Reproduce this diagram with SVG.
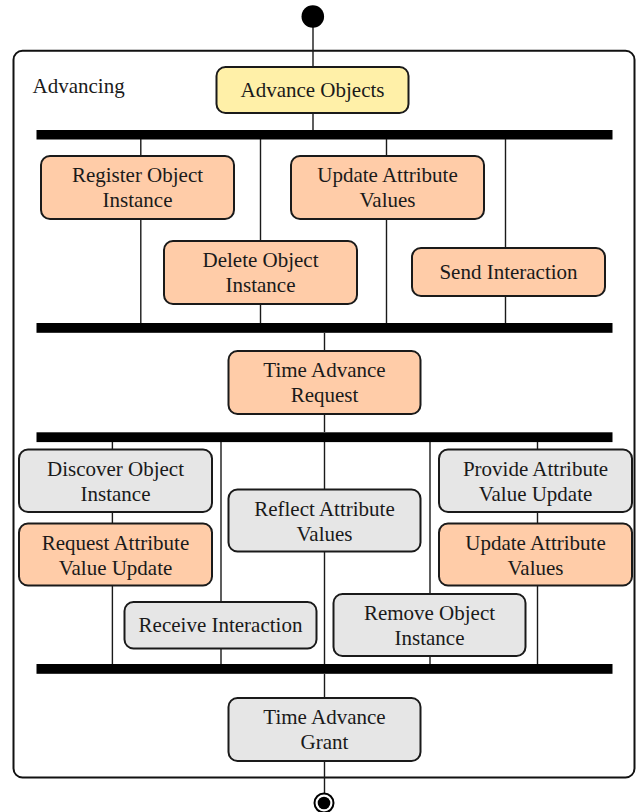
<svg xmlns="http://www.w3.org/2000/svg" width="636" height="812" viewBox="0 0 636 812">
  <style>
    .act { stroke: #1a1a1a; stroke-width: 2; }
    .yellow { fill: #FFF0A8; }
    .orange { fill: #FFCCA8; }
    .gray { fill: #E6E6E6; }
    .lbl { font-family: "Liberation Serif", "Times New Roman", serif; font-size: 21px; fill: #1a1a1a; text-anchor: middle; }
    .flow { stroke: #1a1a1a; stroke-width: 1.4; fill: none; }
    .bar { fill: #000; }
  </style>
  <rect width="636" height="812" fill="#fff"/>

  <!-- activity region -->
  <g id="advancing">
    <rect x="13.5" y="50.7" width="621" height="726.8" rx="9" fill="#fff" stroke="#111" stroke-width="2"/>
    <text x="32.5" y="93" class="lbl" style="text-anchor:start">Advancing</text>
  </g>

  <!-- control flows -->
  <g id="connectors">
    <path class="flow" d="M313 16V67 M313 113V130"/>
    <path class="flow" d="M140.8 139V156 M140.8 219V323"/>
    <path class="flow" d="M260.5 139V241 M260.5 304V323"/>
    <path class="flow" d="M386.5 139V156 M386.5 219V323"/>
    <path class="flow" d="M505.5 139V248.5 M505.5 296.5V323"/>
    <path class="flow" d="M324.5 333V351 M324.5 414V432"/>
    <path class="flow" d="M112.4 442V449.5 M112.4 512V523.5 M112.4 585.5V664"/>
    <path class="flow" d="M221 442V602 M221 648.5V664"/>
    <path class="flow" d="M324.5 442V489.5 M324.5 551.5V664"/>
    <path class="flow" d="M430 442V594 M430 656V664"/>
    <path class="flow" d="M537.5 442V449.5 M537.5 512V523.5 M537.5 585.5V664"/>
    <path class="flow" d="M324.5 674V698 M324.5 761V793"/>
  </g>

  <!-- fork / join bars -->
  <g id="bar1"><rect class="bar" x="36.5" y="130" width="576" height="9.5"/></g>
  <g id="bar2"><rect class="bar" x="36.5" y="323" width="576" height="9.8"/></g>
  <g id="bar3"><rect class="bar" x="36.5" y="432.3" width="576" height="9.8"/></g>
  <g id="bar4"><rect class="bar" x="36.5" y="664" width="576" height="9.8"/></g>

  <!-- initial and final nodes -->
  <g id="start"><circle cx="312.8" cy="16.5" r="11.3" fill="#000"/></g>
  <g id="end">
    <circle cx="324" cy="803" r="9.5" fill="#fff" stroke="#000" stroke-width="2"/>
    <circle cx="324" cy="803" r="6.3" fill="#000"/>
  </g>

  <!-- actions -->
  <g id="advance-objects">
    <rect class="act yellow" x="216.5" y="67" width="192" height="46" rx="9"/>
    <text class="lbl" x="312.5" y="96.7">Advance Objects</text>
  </g>
  <g id="register-object-instance">
    <rect class="act orange" x="41" y="156" width="193" height="63" rx="9"/>
    <text class="lbl" x="137.5" y="182.3">Register Object</text>
    <text class="lbl" x="137.5" y="207.3">Instance</text>
  </g>
  <g id="update-attribute-values-1">
    <rect class="act orange" x="291" y="156" width="193" height="63" rx="9"/>
    <text class="lbl" x="387.5" y="182.3">Update Attribute</text>
    <text class="lbl" x="387.5" y="207.3">Values</text>
  </g>
  <g id="delete-object-instance">
    <rect class="act orange" x="164" y="241" width="193" height="63" rx="9"/>
    <text class="lbl" x="260.5" y="267.3">Delete Object</text>
    <text class="lbl" x="260.5" y="292.3">Instance</text>
  </g>
  <g id="send-interaction">
    <rect class="act orange" x="412" y="248" width="193" height="48" rx="9"/>
    <text class="lbl" x="508.5" y="279.3">Send Interaction</text>
  </g>
  <g id="time-advance-request">
    <rect class="act orange" x="228.5" y="351" width="192" height="63" rx="9"/>
    <text class="lbl" x="324.5" y="377.3">Time Advance</text>
    <text class="lbl" x="324.5" y="402.3">Request</text>
  </g>
  <g id="discover-object-instance">
    <rect class="act gray" x="19" y="449.5" width="193" height="62.5" rx="9"/>
    <text class="lbl" x="115.5" y="475.8">Discover Object</text>
    <text class="lbl" x="115.5" y="500.8">Instance</text>
  </g>
  <g id="request-attribute-value-update">
    <rect class="act orange" x="19" y="523.5" width="193" height="62" rx="9"/>
    <text class="lbl" x="115.5" y="549.8">Request Attribute</text>
    <text class="lbl" x="115.5" y="574.8">Value Update</text>
  </g>
  <g id="reflect-attribute-values">
    <rect class="act gray" x="228.5" y="489.5" width="192" height="62" rx="9"/>
    <text class="lbl" x="324.5" y="515.8">Reflect Attribute</text>
    <text class="lbl" x="324.5" y="540.8">Values</text>
  </g>
  <g id="provide-attribute-value-update">
    <rect class="act gray" x="439" y="449.5" width="193" height="62.5" rx="9"/>
    <text class="lbl" x="535.5" y="475.8">Provide Attribute</text>
    <text class="lbl" x="535.5" y="500.8">Value Update</text>
  </g>
  <g id="update-attribute-values-2">
    <rect class="act orange" x="439" y="523.5" width="193" height="62" rx="9"/>
    <text class="lbl" x="535.5" y="549.8">Update Attribute</text>
    <text class="lbl" x="535.5" y="574.8">Values</text>
  </g>
  <g id="receive-interaction">
    <rect class="act gray" x="124.5" y="602" width="192" height="46.5" rx="9"/>
    <text class="lbl" x="220.5" y="631.8">Receive Interaction</text>
  </g>
  <g id="remove-object-instance">
    <rect class="act gray" x="333.5" y="594" width="192" height="62" rx="9"/>
    <text class="lbl" x="429.5" y="620.3">Remove Object</text>
    <text class="lbl" x="429.5" y="645.3">Instance</text>
  </g>
  <g id="time-advance-grant">
    <rect class="act gray" x="228.5" y="698" width="192" height="63" rx="9"/>
    <text class="lbl" x="324.5" y="724.3">Time Advance</text>
    <text class="lbl" x="324.5" y="749.3">Grant</text>
  </g>
</svg>
